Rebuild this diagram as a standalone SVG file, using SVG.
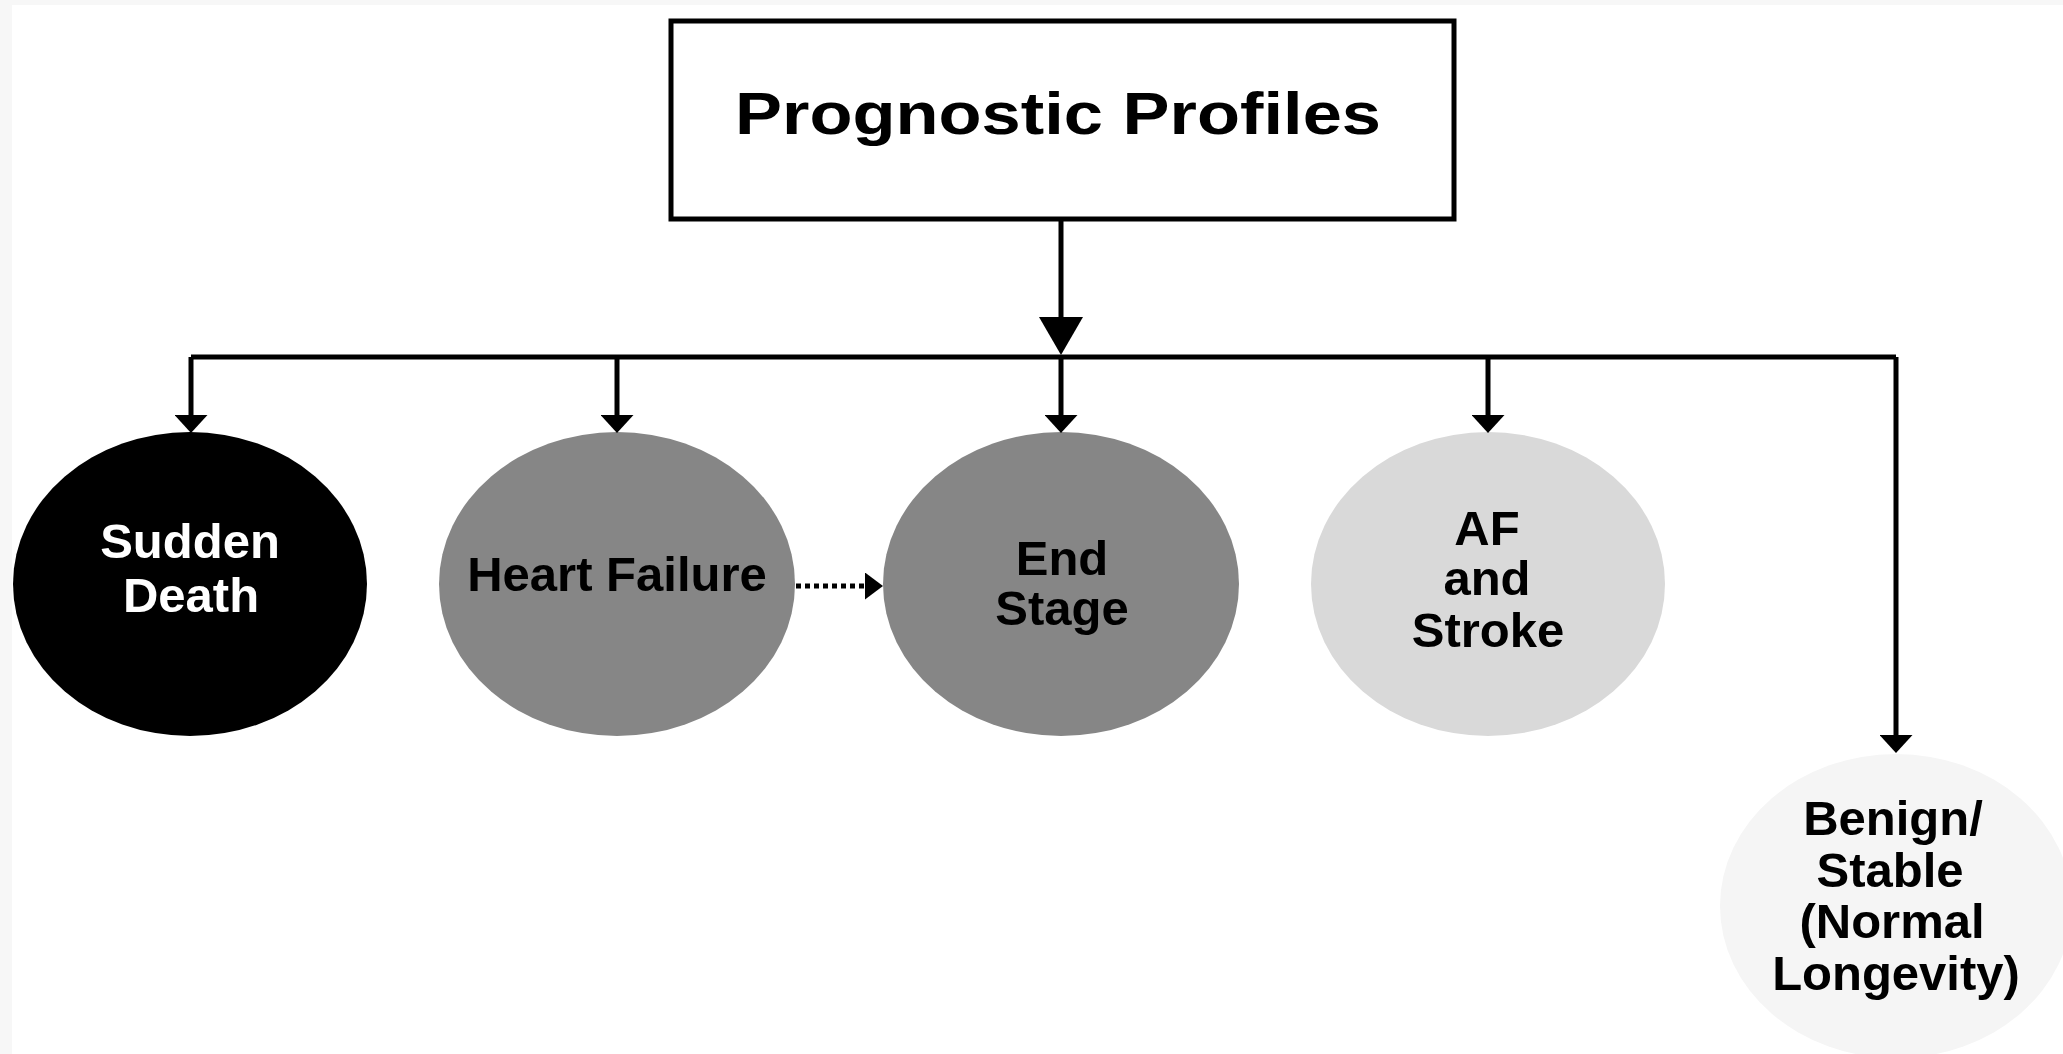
<svg xmlns="http://www.w3.org/2000/svg" width="2063" height="1054" viewBox="0 0 2063 1054">
  <style>
    .lbl { font-family: "Liberation Sans", Arial, sans-serif; font-weight: bold; font-size: 49px; text-anchor: middle; fill: #000; }
    .white { fill: #fff; }
    .conn { stroke: #000; stroke-width: 5; fill: none; }
    .dot { stroke: #000; stroke-width: 5; stroke-dasharray: 5 4; fill: none; }
  </style>
  <defs>
    <marker id="arrowS" markerUnits="userSpaceOnUse" viewBox="0 0 18 33" refX="1" refY="16.5" markerWidth="18" markerHeight="33" orient="auto">
      <path d="M0,0 L18,16.5 L0,33 Z" fill="#000"/>
    </marker>
    <marker id="arrowL" markerUnits="userSpaceOnUse" viewBox="0 0 38 44" refX="1" refY="22" markerWidth="38" markerHeight="44" orient="auto">
      <path d="M0,0 L38,22 L0,44 Z" fill="#000"/>
    </marker>
    <marker id="arrowD" markerUnits="userSpaceOnUse" viewBox="0 0 18 27" refX="1" refY="13.5" markerWidth="18" markerHeight="27" orient="auto">
      <path d="M0,0 L18,13.5 L0,27 Z" fill="#000"/>
    </marker>
  </defs>

  <rect x="0" y="0" width="2063" height="1054" fill="#f7f7f7"/>
  <rect x="12" y="5" width="2051" height="1049" fill="#ffffff"/>

  <g id="node-prognostic-profiles">
    <rect x="671" y="21" width="783" height="198" fill="#fff" stroke="#000" stroke-width="5"/>
    <text x="735" y="134" font-family="Liberation Sans, Arial, sans-serif" font-weight="bold" font-size="60" textLength="646" lengthAdjust="spacingAndGlyphs">Prognostic Profiles</text>
  </g>

  <g id="node-sudden-death">
    <ellipse cx="190" cy="584" rx="177" ry="152" fill="#000"/>
    <text class="lbl white" x="190" y="558">Sudden</text>
    <text class="lbl white" x="191" y="612">Death</text>
  </g>

  <g id="node-heart-failure">
    <ellipse cx="617" cy="584" rx="178" ry="152" fill="#868686"/>
    <text class="lbl" x="617" y="591">Heart Failure</text>
  </g>

  <g id="node-end-stage">
    <ellipse cx="1061" cy="584" rx="178" ry="152" fill="#868686"/>
    <text class="lbl" x="1062" y="575">End</text>
    <text class="lbl" x="1062" y="625">Stage</text>
  </g>

  <g id="node-af-stroke">
    <ellipse cx="1488" cy="584" rx="177" ry="152" fill="#d9d9d9"/>
    <text class="lbl" x="1487" y="545">AF</text>
    <text class="lbl" x="1487" y="595">and</text>
    <text class="lbl" x="1488" y="647">Stroke</text>
  </g>

  <g id="node-benign-stable">
    <ellipse cx="1896" cy="906" rx="176" ry="152" fill="#f5f5f5"/>
    <text class="lbl" x="1893" y="835">Benign/</text>
    <text class="lbl" x="1890" y="887">Stable</text>
    <text class="lbl" x="1892" y="938">(Normal</text>
    <text class="lbl" x="1896" y="990">Longevity)</text>
  </g>

  <g id="connectors">
    <path class="conn" d="M1061,219 V318" marker-end="url(#arrowL)"/>
    <path class="conn" d="M191,357 H1896"/>
    <path class="conn" d="M191,357 V416" marker-end="url(#arrowS)"/>
    <path class="conn" d="M617,357 V416" marker-end="url(#arrowS)"/>
    <path class="conn" d="M1061,357 V416" marker-end="url(#arrowS)"/>
    <path class="conn" d="M1488,357 V416" marker-end="url(#arrowS)"/>
    <path class="conn" d="M1896,357 V736" marker-end="url(#arrowS)"/>
    <path class="dot" d="M796,586 H866" marker-end="url(#arrowD)"/>
  </g>
</svg>
